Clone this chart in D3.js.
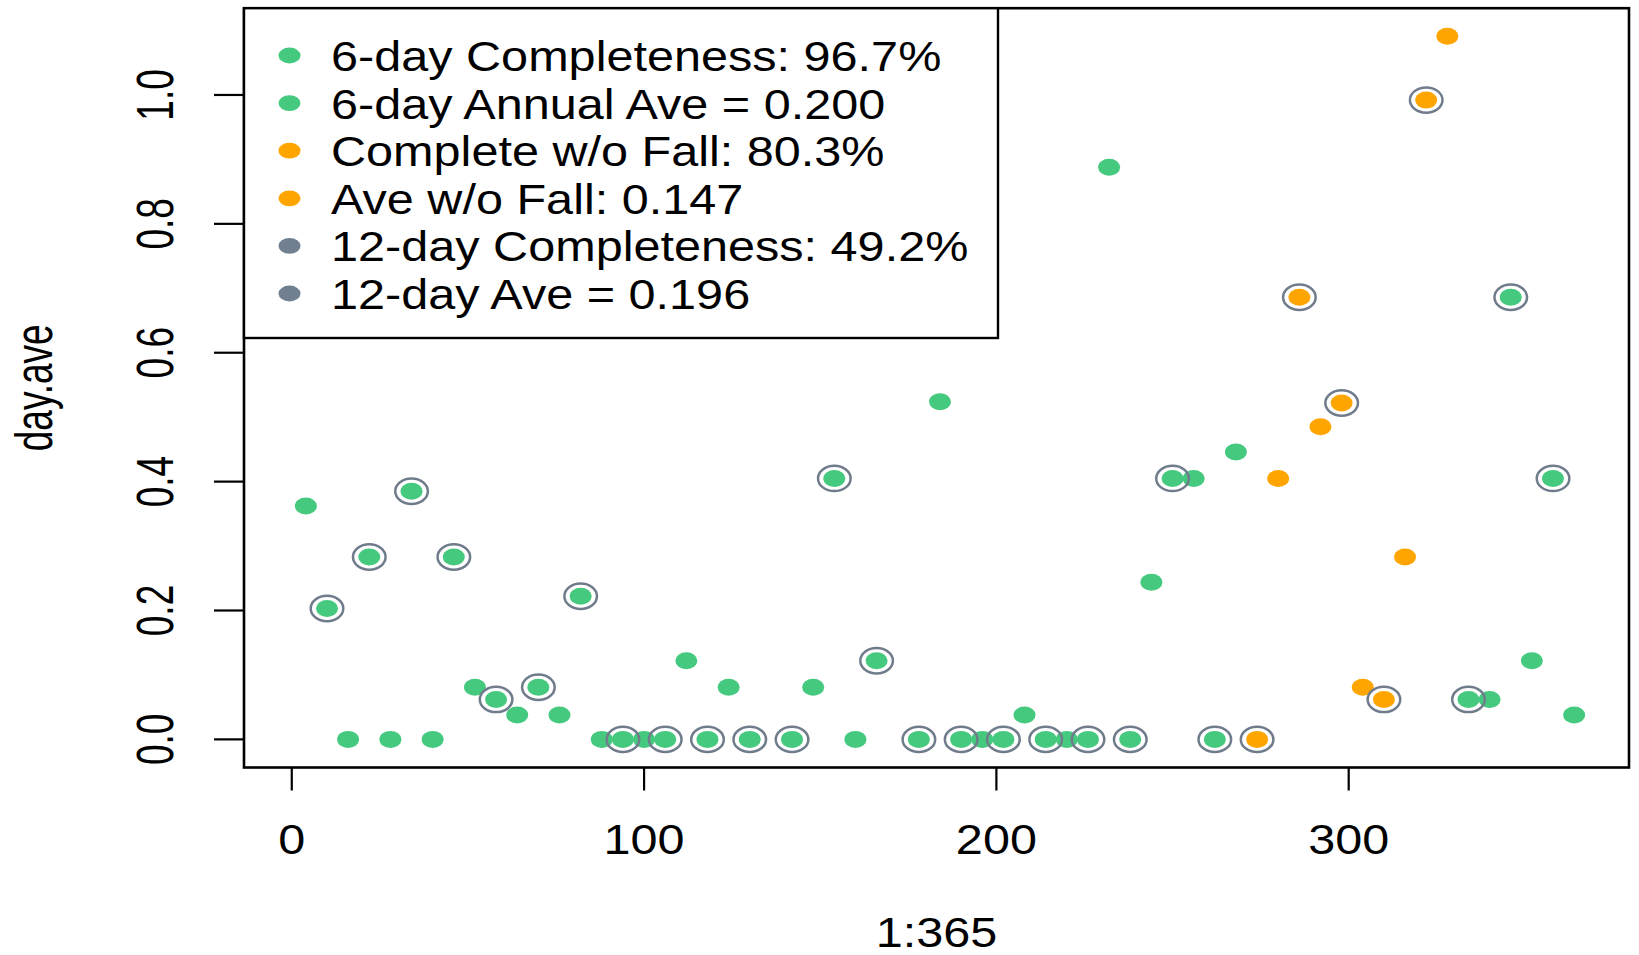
<!DOCTYPE html>
<html lang="en">
<head>
<meta charset="utf-8">
<title>day.ave</title>
<script src="https://d3js.org/d3.v7.min.js"></script>
<style>
  body { margin: 0; background: #fff; }
  text { font-family: "Liberation Sans", Arial, sans-serif; fill: #000; }
</style>
</head>
<body>
<div id="graph"></div>
<script>
// sample days (every 6th day) and the 6-day averages; null = missing
var days = [4, 10, 16, 22, 28, 34, 40, 46, 52, 58, 64, 70, 76, 82, 88, 94, 100, 106, 112, 118,
            124, 130, 136, 142, 148, 154, 160, 166, 172, 178, 184, 190, 196, 202, 208, 214, 220,
            226, 232, 238, 244, 250, 256, 262, 268, 274, 280, 286, 292, 298, 304, 310, 316, 322,
            328, 334, 340, 346, 352, 358, 364];
var dayAve = [0.362, 0.203, 0, 0.283, 0, 0.385, 0, 0.283, 0.081, 0.062, 0.038, 0.081, 0.038, 0.222, 0, 0, 0, 0, 0.122, 0,
              0.081, 0, null, 0, 0.081, 0.405, 0, 0.122, null, 0, 0.524, 0, 0, 0, 0.038, 0, 0,
              0, 0.888, 0, 0.244, 0.405, 0.405, 0, 0.446, 0, 0.405, 0.686, 0.485, 0.522, 0.081, 0.062, 0.283, 0.992,
              1.091, 0.062, 0.062, 0.686, 0.122, 0.405, 0.038];
// days that also belong to the 12-day schedule (circled)
var twelveDays = [10, 22, 34, 46, 58, 70, 82, 94, 106, 118, 130, 142, 154, 166, 178, 190, 202, 214,
                  226, 238, 250, 262, 274, 286, 298, 310, 322, 334, 346, 358];
// fall samples (orange)
var fallDays = [274, 280, 286, 292, 298, 304, 310, 316, 322, 328];

var legendLabels = ["6-day Completeness: 96.7%", "6-day Annual Ave = 0.200", "Complete w/o Fall: 80.3%",
                    "Ave w/o Fall: 0.147", "12-day Completeness: 49.2%", "12-day Ave = 0.196"];
var legendColors = ["#45c97e", "#45c97e", "#ffa500", "#ffa500", "#708090", "#708090"];

var xTicks = [0, 100, 200, 300];
var yTicks = [0, 0.2, 0.4, 0.6, 0.8, 1.0];
var xLabel = "1:365", yLabel = "day.ave";

var W = 1639, H = 955;
var green = "#45c97e", orange = "#ffa500", ringCol = "#707c8c";
var fs = 43, hx = 1.13;       // text size and horizontal stretch of the picture
var rx = 11, ry = 8.5;        // dot radii (picture is stretched wider)

var points = days.map(function(d, i) { return {day: d, v: dayAve[i]}; })
                 .filter(function(p) { return p.v !== null; });

var svg = d3.select("#graph").append("svg")
  .attr("width", W).attr("height", H);
svg.append("rect").attr("width", W).attr("height", H).attr("fill", "#fff");

// R style 4% padding on both axes
var xr = [1, 365], xpad = 0.04 * (xr[1] - xr[0]);
var x = d3.scaleLinear().domain([xr[0] - xpad, xr[1] + xpad]).range([244, 1629]);
var ymax = d3.max(points, function(p) { return p.v; });
var y = d3.scaleLinear().domain([-0.04 * ymax, ymax * 1.04]).range([767.5, 8.2]);

// points
var gp = svg.append("g");
gp.selectAll("ellipse.dot")
  .data(points)
  .enter().append("ellipse")
  .attr("class", "dot")
  .attr("cx", function(p) { return x(p.day); })
  .attr("cy", function(p) { return y(p.v); })
  .attr("rx", rx).attr("ry", ry)
  .attr("fill", function(p) { return fallDays.indexOf(p.day) >= 0 ? orange : green; });

gp.selectAll("ellipse.ring")
  .data(points.filter(function(p) { return twelveDays.indexOf(p.day) >= 0; }))
  .enter().append("ellipse")
  .attr("class", "ring")
  .attr("cx", function(p) { return x(p.day); })
  .attr("cy", function(p) { return y(p.v); })
  .attr("rx", 16.3).attr("ry", 12.7)
  .attr("fill", "none")
  .attr("stroke", ringCol)
  .attr("stroke-width", 2.5);

// box
var x0 = x.range()[0], x1 = x.range()[1], y0 = y.range()[0], y1 = y.range()[1];
svg.append("rect")
  .attr("x", x0).attr("y", y1)
  .attr("width", x1 - x0).attr("height", y0 - y1)
  .attr("fill", "none").attr("stroke", "#000").attr("stroke-width", 2.6);

// x axis
var gx = svg.append("g");
gx.selectAll("line")
  .data(xTicks).enter().append("line")
  .attr("x1", function(d) { return x(d); }).attr("x2", function(d) { return x(d); })
  .attr("y1", y0).attr("y2", y0 + 23)
  .attr("stroke", "#000").attr("stroke-width", 2.2);
gx.selectAll("text")
  .data(xTicks).enter().append("text")
  .attr("transform", function(d) { return "translate(" + x(d) + ",854) scale(" + hx + ",1)"; })
  .attr("text-anchor", "middle")
  .style("font-size", fs + "px")
  .text(function(d) { return d; });
svg.append("text")
  .attr("transform", "translate(" + ((x0 + x1) / 2) + ",947) scale(" + hx + ",1)")
  .attr("text-anchor", "middle")
  .style("font-size", fs + "px")
  .text(xLabel);

// y axis (labels parallel to the axis)
var gy = svg.append("g");
gy.selectAll("line")
  .data(yTicks).enter().append("line")
  .attr("x1", x0 - 30).attr("x2", x0)
  .attr("y1", function(d) { return y(d); }).attr("y2", function(d) { return y(d); })
  .attr("stroke", "#000").attr("stroke-width", 2.2);
gy.selectAll("text")
  .data(yTicks).enter().append("text")
  .attr("transform", function(d) { return "translate(173," + y(d) + ") scale(1.38,1) rotate(-90)"; })
  .attr("text-anchor", "middle")
  .style("font-size", "37px")
  .text(function(d) { return d3.format(".1f")(d); });
svg.append("text")
  .attr("transform", "translate(52," + ((y0 + y1) / 2) + ") scale(1.38,1) rotate(-90)")
  .attr("text-anchor", "middle")
  .style("font-size", "37px")
  .text(yLabel);

// legend, top left
var lg = svg.append("g");
lg.append("rect")
  .attr("x", x0).attr("y", y1)
  .attr("width", 998 - x0).attr("height", 338 - y1)
  .attr("fill", "#fff").attr("stroke", "#000").attr("stroke-width", 2.4);
var rowY = function(i) { return 55.5 + i * 47.6; };
lg.selectAll("ellipse")
  .data(legendLabels).enter().append("ellipse")
  .attr("cx", 289.5)
  .attr("cy", function(d, i) { return rowY(i); })
  .attr("rx", rx).attr("ry", 7.9)
  .attr("fill", function(d, i) { return legendColors[i]; });
lg.selectAll("text")
  .data(legendLabels).enter().append("text")
  .attr("transform", function(d, i) { return "translate(331," + (rowY(i) + 15.5) + ") scale(" + hx + ",1)"; })
  .style("font-size", fs + "px")
  .text(function(d) { return d; });
</script>
</body>
</html>
